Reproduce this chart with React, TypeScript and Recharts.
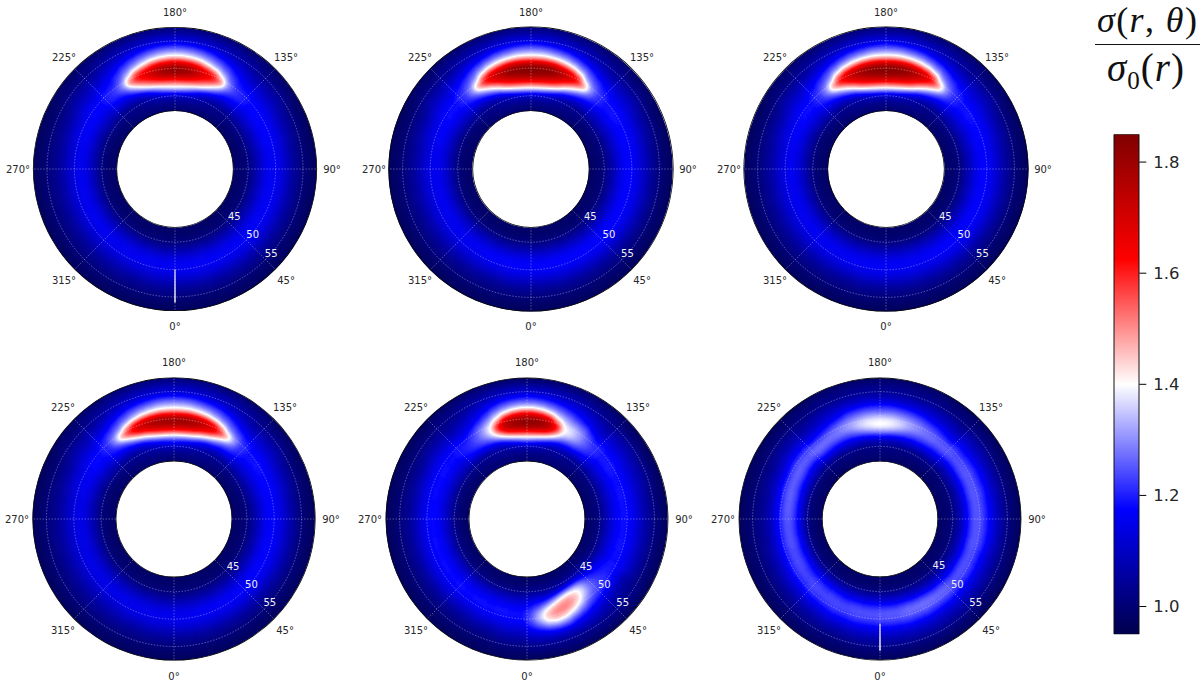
import {
  Bar,
  BarChart,
  Cell,
  Pie,
  PieChart,
  PolarAngleAxis,
  PolarGrid,
  PolarRadiusAxis,
  Radar,
  RadarChart,
  XAxis,
  YAxis,
} from "recharts";

const valueRange = [0.95, 1.85];
const colorbarTicks = [1.0, 1.2, 1.4, 1.6, 1.8];
const colorbarData = [{ name: "sigma", range: valueRange }];

const angleLabels = [0, 45, 90, 135, 180, 225, 270, 315];
const radialTicks = [45, 50, 55];
const radialDomain = [42.3, 57.5];

const panelX = [175, 530.5, 886.3, 173.8, 526.7, 880];
const panelY = [169.3, 169.3, 169.3, 519, 519, 519];
const outerRadii = [141.7, 142.2, 142.2, 141.2, 141, 141];
const innerRadii = [58.3, 58.3, 58.3, 58, 58, 57.8];

// rings of the coarse field, r = 42..58 in steps of 2, 24 columns of 15 deg
const baseRings = [42, 44, 46, 48, 50, 52, 54, 56, 58];
// rings of the fine patches, r = 44..56 in steps of 1
const patchRings = [44, 45, 46, 47, 48, 49, 50, 51, 52, 53, 54, 55, 56];

const base1 = [
  [98, 98, 98, 98, 98, 98, 98, 98, 98, 99, 100, 100, 100, 100, 99, 98, 98, 98, 98, 98, 98, 98, 98, 98],
  [100, 100, 100, 100, 100, 100, 100, 101, 102, 103, 104, 105, 105, 104, 103, 102, 100, 100, 100, 100, 100, 100, 100, 100],
  [109, 109, 109, 109, 109, 109, 109, 110, 111, 114, 118, 118, 118, 118, 114, 111, 110, 110, 111, 111, 111, 111, 110, 109],
  [118, 118, 118, 118, 118, 118, 118, 119, 119, 121, 126, 126, 126, 126, 121, 119, 119, 118, 118, 118, 118, 118, 118, 118],
  [115, 115, 115, 115, 115, 115, 115, 116, 117, 120, 126, 128, 128, 126, 120, 116, 113, 111, 111, 111, 111, 112, 113, 114],
  [106, 106, 106, 106, 106, 106, 106, 107, 109, 114, 120, 122, 122, 120, 114, 108, 105, 104, 104, 104, 104, 105, 105, 106],
  [101, 101, 101, 101, 101, 101, 101, 102, 104, 106, 110, 112, 112, 110, 106, 103, 101, 101, 101, 101, 101, 101, 101, 101],
  [97, 97, 97, 97, 97, 97, 97, 97, 98, 99, 100, 101, 101, 100, 99, 98, 97, 97, 97, 97, 97, 97, 97, 97],
];
const base2 = [
  [98, 98, 98, 98, 98, 98, 98, 98, 98, 99, 100, 100, 100, 100, 99, 98, 98, 98, 98, 98, 98, 98, 98, 98],
  [100, 100, 100, 100, 100, 100, 100, 101, 102, 103, 105, 105, 105, 105, 103, 102, 100, 100, 100, 100, 100, 100, 100, 100],
  [110, 110, 109, 109, 109, 109, 109, 110, 112, 116, 120, 120, 120, 120, 116, 112, 110, 110, 111, 111, 111, 111, 110, 110],
  [119, 119, 119, 119, 119, 119, 119, 119, 120, 122, 128, 128, 128, 128, 122, 120, 119, 118, 118, 118, 118, 118, 119, 119],
  [116, 116, 116, 116, 116, 116, 116, 117, 118, 121, 128, 130, 130, 128, 121, 117, 114, 112, 112, 112, 112, 113, 114, 115],
  [106, 106, 106, 106, 107, 107, 107, 108, 110, 115, 121, 123, 123, 121, 115, 109, 106, 105, 105, 105, 105, 105, 105, 106],
  [101, 101, 101, 101, 101, 101, 101, 102, 104, 106, 110, 112, 112, 110, 106, 103, 101, 101, 101, 101, 101, 101, 101, 101],
  [97, 97, 97, 97, 97, 97, 97, 97, 98, 99, 100, 101, 101, 100, 99, 98, 97, 97, 97, 97, 97, 97, 97, 97],
];
const base3 = [
  [98, 98, 98, 98, 98, 98, 98, 98, 98, 99, 100, 100, 100, 100, 99, 98, 98, 98, 98, 98, 98, 98, 98, 98],
  [100, 100, 100, 100, 100, 100, 100, 101, 102, 103, 105, 105, 105, 105, 103, 102, 100, 100, 100, 100, 100, 100, 100, 100],
  [110, 110, 109, 109, 109, 109, 109, 110, 112, 116, 120, 120, 120, 120, 116, 112, 110, 110, 111, 111, 111, 111, 110, 110],
  [118, 118, 119, 119, 119, 119, 119, 119, 120, 122, 128, 128, 128, 128, 122, 120, 119, 118, 118, 118, 118, 118, 118, 118],
  [115, 115, 116, 116, 116, 116, 116, 117, 118, 121, 128, 130, 130, 128, 121, 117, 114, 112, 112, 112, 112, 113, 114, 115],
  [106, 106, 106, 106, 107, 107, 107, 108, 110, 115, 121, 123, 123, 121, 115, 109, 106, 105, 105, 105, 105, 105, 105, 106],
  [101, 101, 101, 101, 101, 101, 101, 102, 104, 106, 110, 112, 112, 110, 106, 103, 101, 101, 101, 101, 101, 101, 101, 101],
  [97, 97, 97, 97, 97, 97, 97, 97, 98, 99, 100, 101, 101, 100, 99, 98, 97, 97, 97, 97, 97, 97, 97, 97],
];
const base4 = [
  [98, 98, 98, 98, 98, 98, 98, 98, 98, 99, 100, 100, 100, 100, 99, 98, 98, 98, 98, 98, 98, 98, 98, 98],
  [100, 100, 100, 100, 100, 100, 100, 101, 102, 103, 104, 105, 105, 104, 103, 102, 100, 100, 100, 100, 100, 100, 100, 100],
  [108, 108, 108, 108, 108, 108, 108, 110, 112, 116, 118, 118, 118, 118, 115, 112, 110, 109, 110, 110, 110, 110, 109, 108],
  [117, 118, 118, 119, 119, 119, 119, 119, 120, 122, 126, 126, 126, 126, 122, 120, 118, 117, 117, 117, 117, 117, 117, 117],
  [115, 115, 116, 116, 116, 116, 116, 117, 118, 120, 126, 128, 128, 126, 120, 116, 113, 111, 110, 110, 110, 111, 113, 114],
  [106, 106, 106, 106, 107, 107, 107, 108, 110, 114, 120, 122, 122, 120, 114, 108, 105, 104, 104, 104, 104, 105, 105, 106],
  [101, 101, 101, 101, 101, 101, 101, 102, 104, 106, 110, 112, 112, 110, 106, 103, 101, 101, 101, 101, 101, 101, 101, 101],
  [97, 97, 97, 97, 97, 97, 97, 97, 98, 99, 100, 101, 101, 100, 99, 98, 97, 97, 97, 97, 97, 97, 97, 97],
];
const base5 = [
  [98, 98, 98, 98, 98, 98, 98, 98, 98, 99, 100, 100, 100, 100, 99, 98, 98, 98, 98, 98, 98, 98, 98, 98],
  [101, 101, 102, 102, 101, 101, 101, 101, 102, 103, 104, 104, 104, 104, 103, 102, 101, 101, 101, 101, 101, 101, 101, 101],
  [113, 114, 116, 115, 113, 112, 112, 112, 113, 115, 118, 120, 120, 118, 114, 113, 113, 113, 114, 114, 114, 114, 114, 113],
  [120, 122, 124, 121, 120, 120, 120, 120, 121, 123, 129, 130, 130, 127, 122, 120, 120, 120, 120, 120, 120, 120, 120, 120],
  [118, 120, 122, 118, 117, 117, 117, 117, 118, 121, 127, 128, 128, 124, 119, 116, 115, 114, 114, 114, 114, 114, 116, 117],
  [109, 111, 111, 108, 108, 108, 108, 109, 110, 114, 119, 121, 121, 117, 110, 107, 105, 105, 105, 105, 105, 105, 106, 108],
  [102, 103, 103, 102, 102, 102, 102, 103, 104, 105, 108, 109, 109, 107, 103, 102, 101, 101, 101, 101, 101, 101, 101, 102],
  [97, 97, 97, 97, 97, 97, 97, 97, 97, 98, 99, 99, 99, 99, 98, 97, 97, 97, 97, 97, 97, 97, 97, 97],
];
const base6 = [
  [98, 98, 98, 98, 98, 98, 98, 98, 98, 98, 98, 99, 99, 98, 98, 98, 98, 98, 98, 98, 98, 98, 98, 98],
  [100, 100, 100, 100, 100, 100, 100, 100, 100, 100, 101, 102, 102, 101, 100, 100, 100, 100, 100, 100, 100, 100, 100, 100],
  [114, 113, 111, 110, 110, 110, 110, 110, 111, 112, 113, 113, 113, 113, 113, 115, 118, 120, 120, 120, 119, 118, 116, 115],
  [128, 131, 131, 128, 128, 128, 128, 128, 128, 128, 130, 132, 132, 130, 130, 130, 130, 130, 128, 127, 126, 126, 126, 127],
  [122, 122, 121, 120, 120, 122, 122, 122, 120, 122, 124, 126, 126, 124, 120, 118, 115, 113, 113, 114, 116, 118, 120, 121],
  [110, 110, 109, 109, 109, 110, 110, 110, 110, 112, 114, 116, 116, 114, 110, 107, 105, 104, 104, 105, 106, 107, 108, 109],
  [103, 103, 103, 102, 102, 102, 102, 102, 103, 104, 105, 106, 106, 105, 103, 102, 101, 101, 101, 101, 101, 102, 102, 103],
  [97, 97, 97, 97, 97, 97, 97, 97, 97, 97, 98, 98, 98, 98, 97, 97, 97, 97, 97, 97, 97, 97, 97, 97],
];
const baseGrids = [base1, base2, base3, base4, base5, base6];

// top patches: 12 rings, 18 columns of 5 deg from 135 to 225 deg
const top1 = [
  [101, 102, 102, 102, 103, 104, 105, 105, 105, 105, 105, 105, 104, 103, 102, 102, 102, 101],
  [103, 104, 105, 106, 108, 110, 113, 115, 116, 116, 115, 113, 110, 108, 106, 105, 104, 103],
  [110, 110, 110, 112, 114, 120, 128, 135, 138, 138, 135, 128, 120, 114, 112, 110, 110, 110],
  [116, 116, 118, 124, 134, 146, 150, 152, 152, 152, 152, 150, 146, 134, 124, 118, 116, 116],
  [120, 121, 125, 138, 152, 158, 165, 170, 172, 172, 170, 165, 158, 152, 138, 125, 121, 120],
  [121, 124, 132, 158, 165, 170, 176, 182, 184, 184, 182, 176, 170, 165, 158, 132, 124, 121],
  [120, 120, 126, 138, 158, 166, 172, 178, 180, 180, 178, 172, 166, 158, 138, 126, 120, 120],
  [116, 118, 122, 128, 134, 142, 152, 156, 158, 158, 156, 152, 142, 134, 128, 122, 118, 116],
  [112, 115, 118, 122, 126, 130, 133, 136, 138, 138, 136, 133, 130, 126, 122, 118, 115, 112],
  [108, 110, 113, 116, 119, 122, 125, 127, 128, 128, 127, 125, 122, 119, 116, 113, 110, 108],
  [105, 107, 109, 111, 113, 115, 116, 117, 118, 118, 117, 116, 115, 113, 111, 109, 107, 105],
  [102, 104, 105, 106, 107, 108, 109, 110, 110, 110, 110, 109, 108, 107, 106, 105, 104, 102],
];
const top2 = [
  [102, 102, 102, 103, 103, 104, 105, 105, 105, 105, 105, 105, 104, 103, 103, 102, 102, 102],
  [104, 104, 105, 106, 108, 110, 113, 115, 116, 116, 115, 113, 110, 108, 106, 105, 104, 104],
  [111, 111, 112, 114, 118, 126, 134, 140, 142, 142, 140, 134, 126, 118, 114, 112, 111, 111],
  [117, 118, 122, 128, 138, 152, 158, 160, 160, 160, 160, 158, 152, 138, 128, 122, 118, 117],
  [121, 126, 134, 146, 158, 166, 172, 176, 178, 178, 176, 172, 166, 158, 146, 134, 126, 121],
  [122, 132, 156, 166, 172, 178, 184, 186, 187, 187, 186, 184, 178, 172, 166, 156, 132, 122],
  [122, 126, 134, 158, 170, 176, 182, 184, 185, 185, 184, 182, 176, 170, 158, 134, 126, 122],
  [118, 122, 126, 134, 144, 150, 156, 158, 158, 158, 158, 156, 150, 144, 134, 126, 122, 118],
  [114, 117, 121, 125, 129, 133, 135, 137, 138, 138, 137, 135, 133, 129, 125, 121, 117, 114],
  [109, 111, 114, 117, 120, 123, 125, 127, 128, 128, 127, 125, 123, 120, 117, 114, 111, 109],
  [105, 107, 109, 111, 113, 115, 116, 117, 118, 118, 117, 116, 115, 113, 111, 109, 107, 105],
  [103, 104, 105, 106, 107, 108, 109, 110, 110, 110, 110, 109, 108, 107, 106, 105, 104, 103],
];
const top3 = [
  [102, 102, 102, 103, 103, 104, 105, 105, 105, 105, 105, 105, 104, 103, 103, 102, 102, 102],
  [104, 104, 105, 106, 108, 110, 113, 115, 116, 116, 115, 113, 110, 108, 106, 105, 104, 104],
  [111, 111, 112, 114, 118, 126, 134, 140, 142, 142, 140, 134, 126, 118, 114, 112, 111, 111],
  [117, 118, 122, 128, 138, 152, 158, 160, 160, 160, 160, 158, 152, 138, 128, 122, 118, 117],
  [121, 126, 134, 146, 158, 166, 172, 176, 178, 178, 176, 172, 166, 158, 146, 134, 126, 121],
  [122, 132, 156, 166, 172, 178, 183, 185, 186, 186, 185, 183, 178, 172, 166, 156, 132, 122],
  [122, 126, 134, 158, 170, 176, 181, 183, 184, 184, 183, 181, 176, 170, 158, 134, 126, 122],
  [118, 122, 126, 134, 144, 150, 156, 158, 158, 158, 158, 156, 150, 144, 134, 126, 122, 118],
  [114, 117, 121, 125, 129, 133, 135, 137, 138, 138, 137, 135, 133, 129, 125, 121, 117, 114],
  [109, 111, 114, 117, 120, 123, 125, 127, 128, 128, 127, 125, 123, 120, 117, 114, 111, 109],
  [105, 107, 109, 111, 113, 115, 116, 117, 118, 118, 117, 116, 115, 113, 111, 109, 107, 105],
  [103, 104, 105, 106, 107, 108, 109, 110, 110, 110, 110, 109, 108, 107, 106, 105, 104, 103],
];
const top4 = [
  [102, 102, 102, 103, 103, 104, 104, 105, 105, 105, 105, 104, 104, 103, 103, 102, 102, 102],
  [104, 105, 105, 106, 108, 110, 112, 114, 115, 115, 114, 112, 110, 108, 106, 105, 105, 104],
  [112, 112, 113, 114, 115, 118, 122, 124, 126, 126, 124, 122, 118, 115, 113, 112, 111, 111],
  [119, 120, 121, 126, 130, 138, 146, 150, 150, 150, 150, 146, 138, 130, 124, 120, 118, 118],
  [121, 126, 132, 142, 156, 162, 168, 170, 172, 172, 170, 168, 162, 156, 144, 130, 124, 120],
  [122, 134, 154, 166, 172, 176, 180, 182, 182, 182, 182, 180, 176, 172, 166, 156, 132, 121],
  [122, 127, 132, 150, 166, 172, 176, 178, 178, 178, 178, 176, 172, 166, 150, 132, 127, 122],
  [118, 121, 125, 129, 135, 142, 146, 148, 148, 148, 148, 146, 142, 135, 129, 125, 121, 118],
  [113, 116, 120, 124, 127, 130, 132, 134, 135, 135, 134, 132, 130, 127, 124, 120, 116, 113],
  [108, 110, 113, 116, 119, 121, 123, 125, 126, 126, 125, 123, 121, 119, 116, 113, 110, 108],
  [105, 107, 109, 111, 113, 114, 115, 116, 116, 116, 116, 115, 114, 113, 111, 109, 107, 105],
  [102, 104, 105, 106, 107, 108, 108, 109, 109, 109, 109, 108, 108, 107, 106, 105, 104, 102],
];
const top5 = [
  [102, 102, 102, 103, 103, 103, 104, 104, 104, 104, 104, 104, 103, 103, 103, 102, 102, 102],
  [104, 105, 106, 107, 107, 108, 110, 112, 114, 114, 112, 110, 108, 107, 106, 105, 104, 104],
  [114, 114, 115, 115, 116, 118, 124, 130, 134, 134, 130, 124, 118, 116, 115, 114, 114, 114],
  [120, 121, 124, 125, 128, 138, 150, 155, 156, 156, 155, 150, 138, 128, 124, 122, 120, 119],
  [122, 126, 131, 136, 140, 158, 172, 176, 178, 178, 176, 172, 158, 140, 130, 125, 122, 120],
  [122, 126, 132, 138, 142, 168, 180, 184, 186, 186, 184, 180, 168, 142, 132, 125, 121, 120],
  [120, 124, 130, 134, 136, 146, 168, 176, 178, 178, 176, 168, 146, 134, 128, 122, 118, 118],
  [114, 118, 124, 126, 130, 134, 142, 150, 154, 154, 150, 142, 134, 126, 120, 116, 113, 112],
  [110, 113, 116, 119, 122, 125, 128, 131, 133, 133, 131, 128, 124, 119, 115, 112, 110, 108],
  [107, 110, 113, 115, 117, 119, 121, 123, 124, 124, 123, 121, 118, 114, 111, 108, 106, 105],
  [104, 106, 108, 110, 111, 112, 113, 114, 115, 115, 114, 113, 111, 109, 107, 105, 104, 103],
  [102, 103, 104, 105, 106, 107, 107, 108, 108, 108, 108, 107, 106, 105, 104, 103, 102, 102],
];
const top6 = [
  [101, 101, 101, 101, 101, 101, 101, 101, 101, 101, 101, 101, 101, 101, 101, 101, 101, 101],
  [103, 103, 103, 103, 104, 104, 104, 104, 104, 104, 104, 104, 104, 104, 103, 103, 103, 103],
  [112, 112, 112, 112, 112, 112, 112, 112, 113, 113, 112, 112, 112, 112, 112, 113, 114, 114],
  [118, 118, 119, 120, 120, 121, 122, 124, 126, 126, 124, 122, 121, 120, 120, 120, 121, 122],
  [125, 125, 126, 126, 127, 129, 133, 137, 139, 139, 137, 133, 129, 127, 127, 127, 128, 128],
  [127, 127, 128, 129, 131, 134, 138, 141, 142, 142, 141, 138, 134, 131, 129, 128, 127, 127],
  [121, 122, 124, 126, 128, 130, 132, 134, 135, 135, 134, 132, 130, 128, 125, 122, 120, 119],
  [115, 117, 119, 120, 122, 124, 125, 126, 126, 126, 126, 125, 124, 120, 118, 116, 114, 113],
  [110, 112, 113, 114, 116, 117, 118, 119, 120, 120, 119, 118, 117, 114, 112, 111, 110, 108],
  [106, 108, 109, 110, 110, 111, 111, 112, 112, 112, 112, 111, 111, 110, 109, 108, 106, 105],
  [103, 104, 105, 105, 106, 106, 106, 106, 106, 106, 106, 106, 106, 105, 105, 104, 103, 103],
  [100, 101, 101, 102, 102, 102, 103, 103, 103, 103, 103, 103, 102, 102, 102, 101, 101, 100],
];
const topPatches = [top1, top2, top3, top4, top5, top6];

// the second spot in panel 5: 12 rings, 12 columns of 5 deg from 0 to 60 deg
const lowerSpot = [
  [102, 102, 102, 102, 102, 102, 102, 102, 102, 102, 102, 102],
  [105, 105, 105, 105, 106, 107, 108, 109, 109, 108, 106, 105],
  [114, 114, 114, 116, 120, 125, 127, 126, 121, 117, 115, 114],
  [118, 120, 124, 132, 141, 145, 143, 137, 128, 122, 119, 118],
  [122, 128, 138, 147, 151, 151, 147, 138, 129, 124, 121, 120],
  [125, 136, 147, 152, 153, 150, 143, 133, 127, 124, 122, 120],
  [125, 134, 144, 148, 146, 140, 132, 126, 123, 121, 120, 118],
  [120, 126, 133, 136, 133, 128, 124, 120, 118, 115, 114, 112],
  [114, 117, 120, 122, 122, 118, 116, 114, 112, 110, 108, 107],
  [110, 111, 112, 112, 112, 112, 111, 110, 108, 107, 106, 105],
  [105, 106, 106, 106, 106, 106, 106, 105, 105, 104, 103, 103],
  [102, 102, 102, 102, 102, 102, 102, 102, 102, 102, 102, 102],
];

// white seam at 0 deg
const seams = [
  { panel: 0, from: 50.0, to: 56.0 },
  { panel: 5, from: 50.9, to: 55.8 },
];

const chartW = 360;
const chartH = 340;
const midX = 180;
const midY = 170;

// values go through the page as gray, #seismic turns gray into the colormap after the blur
function grayFill(sigma100: number): string {
  const t = (sigma100 / 100 - valueRange[0]) / (valueRange[1] - valueRange[0]);
  const g = Math.round(Math.max(0, Math.min(1, t)) * 255);
  return `rgb(${g},${g},${g})`;
}

function toPieAngle(theta: number): number {
  return 270 + theta;
}

function annulusPath(R: number, r: number): string {
  const ring = (q: number) =>
    `M${midX - q} ${midY}a${q} ${q} 0 1 0 ${2 * q} 0a${q} ${q} 0 1 0 ${-2 * q} 0Z`;
  return `path(evenodd, "${ring(R)}${ring(r)}")`;
}

function ringPies(
  grid: number[][],
  rings: number[],
  thetaFrom: number,
  thetaTo: number,
  rPx: (v: number) => number,
  extendEdges: boolean,
  prefix: string,
) {
  return grid.map((row, i) => {
    const inner = extendEdges && i === 0 ? rPx(radialDomain[0] - 6) : rPx(rings[i]);
    const outer = extendEdges && i === grid.length - 1 ? rPx(radialDomain[1] + 6) : rPx(rings[i + 1]);
    return (
      <Pie
        key={`${prefix}${i}`}
        data={row.map((v) => ({ sigma: v, span: 1 }))}
        dataKey="span"
        cx={midX}
        cy={midY}
        innerRadius={inner}
        outerRadius={outer}
        startAngle={toPieAngle(thetaFrom)}
        endAngle={toPieAngle(thetaTo)}
        isAnimationActive={false}
        legendType="none"
      >
        {row.map((v, j) => (
          <Cell key={j} fill={grayFill(v)} stroke={grayFill(v)} strokeWidth={0.6} />
        ))}
      </Pie>
    );
  });
}

function AngleTick(props: any) {
  const dx = props.x - midX;
  const dy = props.y - midY;
  const len = Math.hypot(dx, dy) || 1;
  return (
    <text
      x={midX + (dx / len) * 157}
      y={midY + (dy / len) * 157}
      textAnchor="middle"
      dominantBaseline="central"
      fontSize={10}
      fontFamily="DejaVu Sans"
      fill="#262626"
    >
      {props.payload.value}°
    </text>
  );
}

function RadiusTick(props: any) {
  return (
    <text
      x={props.x + 7}
      y={props.y - 5}
      textAnchor="middle"
      dominantBaseline="central"
      fontSize={10}
      fontFamily="DejaVu Sans"
      fill="#f0f0f0"
    >
      {props.payload.value}
    </text>
  );
}

const noMargin = { top: 0, right: 0, bottom: 0, left: 0 };

function Panel({ index }: { index: number }) {
  const R = outerRadii[index];
  const r0 = innerRadii[index];
  const rPx = (v: number) =>
    r0 + ((v - radialDomain[0]) / (radialDomain[1] - radialDomain[0])) * (R - r0);
  const seam = seams.find((s) => s.panel === index);
  const layer = { position: "absolute" as const, left: 0, top: 0 };

  return (
    <div
      style={{
        position: "absolute",
        left: panelX[index] - midX,
        top: panelY[index] - midY,
        width: chartW,
        height: chartH,
      }}
    >
      <div
        style={{
          ...layer,
          width: chartW,
          height: chartH,
          filter: "url(#seismic)",
          clipPath: annulusPath(R, r0),
        }}
      >
        <div style={{ ...layer, filter: "blur(6px)" }}>
          <PieChart width={chartW} height={chartH} margin={noMargin}>
            {ringPies(baseGrids[index], baseRings, 0, 360, rPx, true, "base")}
          </PieChart>
        </div>
        <div style={{ ...layer, filter: "blur(3px)" }}>
          <PieChart width={chartW} height={chartH} margin={noMargin}>
            {ringPies(topPatches[index], patchRings, 135, 225, rPx, false, "top")}
            {index === 4 ? ringPies(lowerSpot, patchRings, 0, 60, rPx, false, "low") : null}
          </PieChart>
        </div>
      </div>

      <div style={layer}>
        <RadarChart
          width={chartW}
          height={chartH}
          margin={noMargin}
          cx={midX}
          cy={midY}
          innerRadius={r0}
          outerRadius={R}
          startAngle={315}
          endAngle={675}
          data={angleLabels.map((angle) => ({ angle, level: radialDomain[0] }))}
        >
          <PolarGrid
            gridType="circle"
            stroke="#ffffff"
            strokeOpacity={0.42}
            strokeWidth={0.8}
            strokeDasharray="1.5 1.5"
            polarRadius={radialTicks.map(rPx)}
          />
          <PolarAngleAxis
            dataKey="angle"
            tick={AngleTick}
            tickLine={false}
            axisLine={false}
          />
          <PolarRadiusAxis
            angle={-45}
            type="number"
            domain={radialDomain}
            ticks={radialTicks as any}
            tick={RadiusTick}
            tickLine={false}
            axisLine={false}
          />
          <Radar dataKey="level" fill="none" stroke="none" dot={false} isAnimationActive={false} />
        </RadarChart>
      </div>

      <div style={layer}>
        <PieChart width={chartW} height={chartH} margin={noMargin}>
          <Pie
            data={[{ span: 1 }]}
            dataKey="span"
            cx={midX}
            cy={midY}
            innerRadius={R - 0.4}
            outerRadius={R + 0.4}
            fill="#0a0a0a"
            stroke="none"
            isAnimationActive={false}
            legendType="none"
          />
          <Pie
            data={[{ span: 1 }]}
            dataKey="span"
            cx={midX}
            cy={midY}
            innerRadius={r0 - 0.4}
            outerRadius={r0 + 0.4}
            fill="#0a0a0a"
            stroke="none"
            isAnimationActive={false}
            legendType="none"
          />
          {seam ? (
            <Pie
              data={[{ span: 1 }]}
              dataKey="span"
              cx={midX}
              cy={midY}
              innerRadius={rPx(seam.from)}
              outerRadius={rPx(seam.to)}
              startAngle={269.7}
              endAngle={270.3}
              fill="#ffffff"
              stroke="none"
              isAnimationActive={false}
              legendType="none"
            />
          ) : null}
        </PieChart>
      </div>
    </div>
  );
}

function Colorbar() {
  return (
    <div style={{ position: "absolute", left: 1100, top: 120 }}>
      <BarChart
        width={95}
        height={530}
        data={colorbarData}
        margin={{ top: 14.3, right: 0, bottom: 15.7, left: 14 }}
        barCategoryGap={0}
      >
        <XAxis dataKey="name" hide />
        <YAxis
          orientation="right"
          width={55.7}
          domain={valueRange}
          ticks={colorbarTicks}
          allowDataOverflow
          tickFormatter={(v: number) => v.toFixed(1)}
          tick={{ fontSize: 16.5, fill: "#262626", fontFamily: "DejaVu Sans" }}
          tickSize={7}
          tickMargin={7}
          tickLine={{ stroke: "#000000" }}
          axisLine={false}
        />
        <Bar
          dataKey="range"
          fill="url(#colorbarFill)"
          stroke="#111111"
          strokeWidth={1}
          isAnimationActive={false}
        />
      </BarChart>
    </div>
  );
}

function Formula() {
  const line = {
    position: "absolute" as const,
    fontFamily: "Liberation Serif",
    whiteSpace: "nowrap" as const,
    color: "#111111",
  };
  return (
    <>
      <div style={{ ...line, left: 1097, top: 2, fontSize: 36, lineHeight: "36px", letterSpacing: 1.4 }}>
        <i>σ</i>(<i>r</i>, <i>θ</i>)
      </div>
      <div style={{ position: "absolute", left: 1095, top: 43.5, width: 105, height: 1.6, background: "#111111" }} />
      <div style={{ ...line, left: 1107, top: 50, fontSize: 39, lineHeight: "36px", letterSpacing: 1 }}>
        <i>σ</i>
        <span style={{ fontSize: 25, position: "relative", top: 8 }}>0</span>(<i>r</i>)
      </div>
    </>
  );
}

export default function App() {
  return (
    <div
      style={{
        position: "absolute",
        left: 0,
        top: 0,
        width: 1200,
        height: 682,
        overflow: "hidden",
        background: "#ffffff",
      }}
    >
      <svg width={0} height={0} style={{ position: "absolute" }}>
        <defs>
          <filter id="seismic" x="0" y="0" width="100%" height="100%" colorInterpolationFilters="sRGB">
            <feComponentTransfer>
              <feFuncR type="table" tableValues="0 0 1 1 0.5" />
              <feFuncG type="table" tableValues="0 0 1 0 0" />
              <feFuncB type="table" tableValues="0.3 1 1 0 0" />
            </feComponentTransfer>
          </filter>
          <linearGradient id="colorbarFill" x1="0" y1="0" x2="0" y2="1">
            <stop offset="0" stopColor="#800000" />
            <stop offset="0.25" stopColor="#ff0000" />
            <stop offset="0.5" stopColor="#ffffff" />
            <stop offset="0.75" stopColor="#0000ff" />
            <stop offset="1" stopColor="#00004d" />
          </linearGradient>
        </defs>
      </svg>
      {panelX.map((_, i) => (
        <Panel key={i} index={i} />
      ))}
      <Colorbar />
      <Formula />
    </div>
  );
}
